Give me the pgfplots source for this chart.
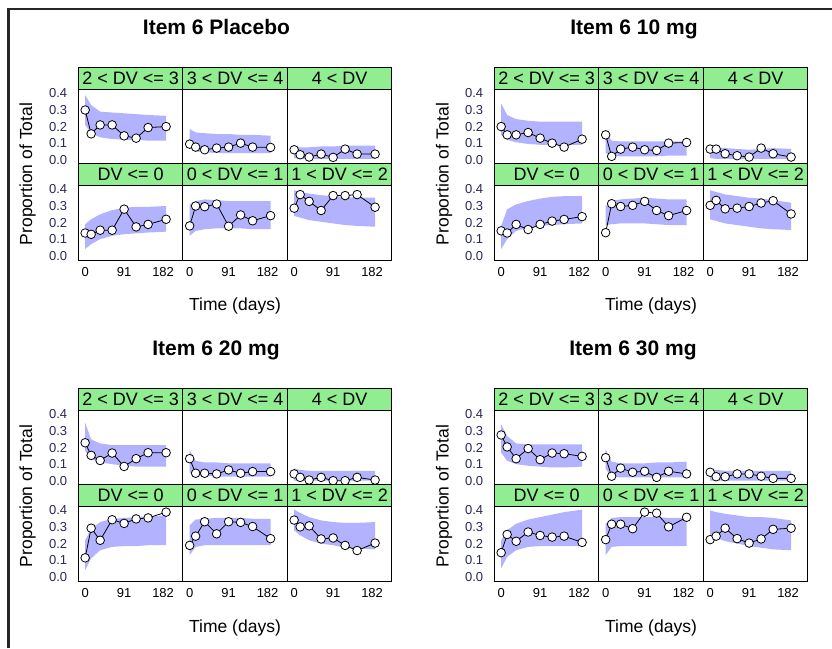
\documentclass[border=0pt]{standalone}
\usepackage{fontspec}
\setmainfont{Liberation Sans}
\usepackage{pgfplots}
\pgfplotsset{compat=1.18}
\definecolor{bandc}{RGB}{178,178,255}
\definecolor{stripc}{RGB}{144,238,144}
\definecolor{tickc}{RGB}{40,40,85}

\pgfplotsset{
 panel/.style={
  scale only axis, width=104.5pt, height=74.5pt,
  xmin=-16, xmax=228, ymin=-0.026, ymax=0.424,
  xtick={0,91,182}, ytick={0,0.1,0.2,0.3,0.4},
  xticklabels={,,}, yticklabels={,,,,},
  major tick length=0pt,
  axis line style={line width=0.8pt},
  every axis title/.style={at={(0.5,1)}, anchor=south, fill=stripc, draw=black, line width=0.8pt,
    minimum width=104.5pt, minimum height=21.5pt, inner sep=0pt, font=\fontsize{18}{20}\selectfont},
 },
 xlab/.style={xticklabels={0,91,182}, xticklabel style={font=\fontsize{13}{15}\selectfont, inner sep=0pt, yshift=-7pt}},
 ylab/.style={yticklabels={0.0,0.1,0.2,0.3,0.4}, yticklabel style={font=\fontsize{13}{15}\selectfont, text=tickc, inner sep=0pt, xshift=-11pt}},
}

\newcommand{\panel}[5]{%
 \begin{axis}[panel, at={(#1)}, anchor=south west, title={#2}, #3]
 \addplot[fill=bandc, draw=none] coordinates {#4};
 \addplot[black, line width=0.8pt, mark=*, mark size=4.3pt, mark options={fill=white, draw=black, line width=0.8pt}] coordinates {#5};
 \end{axis}}

\begin{document}
\begin{tikzpicture}
\path[use as bounding box] (0pt,0pt) rectangle (832pt,648pt);
\draw[line width=2.5pt, black!85] (8.7pt,0pt) -- (8.7pt,639pt) -- (832pt,639pt);

% ---------------- Group 1: Placebo ----------------
\panel{78.3pt,484pt}{2 < DV <= 3}{ylab}
{(0,0.39)(14,0.33)(35,0.29)(63,0.285)(91,0.28)(119,0.275)(147,0.27)(189,0.265)(189,0.115)(147,0.115)(119,0.12)(91,0.12)(63,0.125)(35,0.135)(14,0.16)(0,0.21)}
{(0,0.30)(14,0.156)(35,0.21)(63,0.21)(91,0.144)(119,0.13)(147,0.194)(189,0.20)}
\panel{182.8pt,484pt}{3 < DV <= 4}{}
{(0,0.185)(14,0.165)(35,0.16)(63,0.155)(91,0.155)(119,0.15)(147,0.15)(189,0.145)(189,0.04)(147,0.04)(119,0.04)(91,0.04)(63,0.04)(35,0.045)(14,0.05)(0,0.07)}
{(0,0.094)(14,0.076)(35,0.06)(63,0.07)(91,0.076)(119,0.10)(147,0.076)(189,0.074)}
\panel{287.3pt,484pt}{4 < DV}{}
{(0,0.08)(14,0.075)(35,0.075)(63,0.08)(91,0.08)(119,0.085)(147,0.085)(189,0.085)(189,0.005)(14,0.005)(0,0.01)}
{(0,0.06)(14,0.03)(35,0.016)(63,0.034)(91,0.014)(119,0.064)(147,0.034)(189,0.034)}
\panel{78.3pt,388pt}{DV <= 0}{xlab,ylab}
{(0,0.19)(14,0.22)(35,0.25)(63,0.275)(91,0.29)(119,0.295)(147,0.295)(189,0.30)(189,0.145)(147,0.14)(119,0.135)(91,0.13)(63,0.12)(35,0.10)(14,0.07)(0,0.04)}
{(0,0.137)(14,0.129)(35,0.154)(63,0.154)(91,0.281)(119,0.174)(147,0.189)(189,0.22)}
\panel{182.8pt,388pt}{0 < DV <= 1}{xlab}
{(0,0.31)(14,0.33)(35,0.34)(63,0.335)(91,0.33)(119,0.33)(147,0.33)(189,0.33)(189,0.16)(147,0.16)(119,0.165)(91,0.165)(63,0.165)(35,0.16)(14,0.15)(0,0.12)}
{(0,0.18)(14,0.30)(35,0.296)(63,0.312)(91,0.178)(119,0.246)(147,0.211)(189,0.242)}
\panel{287.3pt,388pt}{1 < DV <= 2}{xlab}
{(0,0.395)(14,0.385)(35,0.375)(63,0.365)(91,0.36)(119,0.355)(147,0.35)(189,0.35)(189,0.175)(147,0.18)(119,0.185)(91,0.195)(63,0.205)(35,0.215)(14,0.23)(0,0.24)}
{(0,0.287)(14,0.369)(35,0.328)(63,0.273)(91,0.363)(119,0.363)(147,0.369)(189,0.293)}

% ---------------- Group 2: 10 mg ----------------
\panel{494.3pt,484pt}{2 < DV <= 3}{ylab}
{(0,0.34)(14,0.27)(35,0.245)(63,0.235)(91,0.23)(189,0.23)(189,0.09)(91,0.09)(63,0.095)(35,0.105)(14,0.12)(0,0.15)}
{(0,0.20)(14,0.15)(35,0.15)(63,0.164)(91,0.13)(119,0.10)(147,0.076)(189,0.124)}
\panel{598.8pt,484pt}{3 < DV <= 4}{}
{(0,0.17)(14,0.115)(35,0.11)(189,0.11)(189,0.025)(147,0.025)(119,0.02)(35,0.02)(14,0.025)(0,0.04)}
{(0,0.15)(14,0.02)(35,0.064)(63,0.076)(91,0.06)(119,0.056)(147,0.10)(189,0.104)}
\panel{703.3pt,484pt}{4 < DV}{}
{(0,0.08)(14,0.075)(35,0.07)(63,0.065)(91,0.06)(119,0.065)(147,0.07)(189,0.065)(189,0.005)(14,0.005)(0,0.01)}
{(0,0.064)(14,0.064)(35,0.036)(63,0.024)(91,0.016)(119,0.07)(147,0.036)(189,0.016)}
\panel{494.3pt,388pt}{DV <= 0}{xlab,ylab}
{(0,0.18)(14,0.28)(35,0.31)(63,0.33)(91,0.345)(119,0.355)(147,0.36)(189,0.36)(189,0.195)(147,0.19)(119,0.185)(91,0.18)(63,0.17)(35,0.15)(14,0.10)(0,0.04)}
{(0,0.15)(14,0.137)(35,0.189)(63,0.158)(91,0.189)(119,0.209)(147,0.219)(189,0.236)}
\panel{598.8pt,388pt}{0 < DV <= 1}{xlab}
{(0,0.30)(14,0.33)(35,0.34)(63,0.345)(91,0.35)(119,0.345)(147,0.34)(189,0.34)(189,0.185)(147,0.185)(119,0.19)(91,0.195)(63,0.195)(35,0.195)(14,0.19)(0,0.185)}
{(0,0.139)(14,0.314)(35,0.297)(63,0.304)(91,0.328)(119,0.273)(147,0.242)(189,0.273)}
\panel{703.3pt,388pt}{1 < DV <= 2}{xlab}
{(0,0.395)(14,0.385)(35,0.37)(63,0.36)(91,0.35)(119,0.345)(147,0.335)(189,0.32)(189,0.155)(147,0.16)(119,0.165)(91,0.175)(63,0.185)(35,0.195)(14,0.21)(0,0.22)}
{(0,0.304)(14,0.334)(35,0.283)(63,0.287)(91,0.297)(119,0.318)(147,0.332)(189,0.252)}

% ---------------- Group 3: 20 mg ----------------
\panel{78.3pt,163pt}{2 < DV <= 3}{ylab}
{(0,0.35)(14,0.25)(35,0.225)(63,0.215)(189,0.215)(189,0.085)(119,0.085)(91,0.09)(63,0.10)(35,0.11)(14,0.13)(0,0.18)}
{(0,0.229)(14,0.153)(35,0.122)(63,0.167)(91,0.086)(119,0.133)(147,0.169)(189,0.169)}
\panel{182.8pt,163pt}{3 < DV <= 4}{}
{(0,0.185)(14,0.12)(35,0.11)(63,0.11)(91,0.105)(189,0.105)(189,0.025)(63,0.025)(35,0.03)(14,0.03)(0,0.05)}
{(0,0.133)(14,0.045)(35,0.045)(63,0.041)(91,0.065)(119,0.045)(147,0.055)(189,0.055)}
\panel{287.3pt,163pt}{4 < DV}{}
{(0,0.075)(14,0.065)(35,0.06)(189,0.06)(189,0.0)(0,0.0)}
{(0,0.041)(14,0.02)(35,0.004)(63,0.02)(91,0.0)(119,0.0)(147,0.02)(189,0.004)}
\panel{78.3pt,67pt}{DV <= 0}{xlab,ylab}
{(0,0.22)(14,0.29)(35,0.33)(63,0.35)(91,0.355)(119,0.36)(147,0.365)(189,0.37)(189,0.19)(147,0.19)(119,0.185)(91,0.185)(63,0.18)(35,0.16)(14,0.11)(0,0.04)}
{(0,0.114)(14,0.293)(35,0.22)(63,0.344)(91,0.322)(119,0.349)(147,0.355)(189,0.39)}
\panel{182.8pt,67pt}{0 < DV <= 1}{xlab}
{(0,0.31)(14,0.345)(35,0.35)(63,0.355)(119,0.355)(147,0.35)(189,0.35)(189,0.19)(35,0.19)(14,0.18)(0,0.13)}
{(0,0.189)(14,0.245)(35,0.332)(63,0.259)(91,0.332)(119,0.328)(147,0.303)(189,0.23)}
\panel{287.3pt,67pt}{1 < DV <= 2}{xlab}
{(0,0.405)(14,0.385)(35,0.36)(63,0.34)(91,0.33)(119,0.325)(147,0.325)(189,0.33)(189,0.165)(147,0.17)(119,0.175)(91,0.19)(63,0.20)(35,0.22)(14,0.25)(0,0.28)}
{(0,0.342)(14,0.301)(35,0.307)(63,0.228)(91,0.234)(119,0.189)(147,0.158)(189,0.203)}

% ---------------- Group 4: 30 mg ----------------
\panel{494.3pt,163pt}{2 < DV <= 3}{ylab}
{(0,0.34)(14,0.27)(35,0.225)(63,0.22)(189,0.22)(189,0.085)(147,0.08)(119,0.08)(91,0.085)(63,0.09)(35,0.10)(14,0.12)(0,0.17)}
{(0,0.276)(14,0.204)(35,0.133)(63,0.194)(91,0.127)(119,0.167)(147,0.163)(189,0.147)}
\panel{598.8pt,163pt}{3 < DV <= 4}{}
{(0,0.19)(14,0.115)(35,0.105)(91,0.105)(119,0.11)(147,0.11)(189,0.115)(189,0.02)(35,0.02)(14,0.025)(0,0.07)}
{(0,0.139)(14,0.027)(35,0.076)(63,0.051)(91,0.057)(119,0.02)(147,0.057)(189,0.041)}
\panel{703.3pt,163pt}{4 < DV}{}
{(0,0.07)(14,0.065)(35,0.06)(189,0.06)(189,0.0)(0,0.0)}
{(0,0.051)(14,0.024)(35,0.024)(63,0.041)(91,0.041)(119,0.027)(147,0.014)(189,0.014)}
\panel{494.3pt,67pt}{DV <= 0}{xlab,ylab}
{(0,0.22)(14,0.28)(35,0.32)(63,0.345)(91,0.36)(119,0.375)(147,0.39)(189,0.405)(189,0.185)(91,0.185)(63,0.18)(35,0.16)(14,0.12)(0,0.05)}
{(0,0.145)(14,0.255)(35,0.214)(63,0.27)(91,0.249)(119,0.239)(147,0.245)(189,0.207)}
\panel{598.8pt,67pt}{0 < DV <= 1}{xlab}
{(0,0.32)(14,0.355)(35,0.36)(119,0.36)(147,0.355)(189,0.355)(189,0.185)(35,0.185)(14,0.18)(0,0.13)}
{(0,0.224)(14,0.317)(35,0.317)(63,0.29)(91,0.39)(119,0.384)(147,0.301)(189,0.359)}
\panel{703.3pt,67pt}{1 < DV <= 2}{xlab}
{(0,0.40)(14,0.39)(35,0.38)(63,0.37)(91,0.36)(119,0.36)(147,0.355)(189,0.34)(189,0.16)(147,0.165)(119,0.175)(91,0.185)(63,0.20)(35,0.215)(14,0.235)(0,0.255)}
{(0,0.224)(14,0.245)(35,0.293)(63,0.23)(91,0.203)(119,0.228)(147,0.286)(189,0.293)}

% ---------------- Titles and labels ----------------
\node[anchor=base, font=\bfseries\fontsize{21}{24}\selectfont] at (216.5pt,613pt) {Item 6 Placebo};
\node[anchor=base, font=\bfseries\fontsize{21}{24}\selectfont] at (634pt,613pt) {Item 6 10 mg};
\node[anchor=base, font=\bfseries\fontsize{21}{24}\selectfont] at (216pt,292pt) {Item 6 20 mg};
\node[anchor=base, font=\bfseries\fontsize{21}{24}\selectfont] at (633pt,292pt) {Item 6 30 mg};

\node[rotate=90, font=\fontsize{17.5}{20}\selectfont] at (27.5pt,474pt) {Proportion of Total};
\node[rotate=90, font=\fontsize{17.5}{20}\selectfont] at (444pt,474pt) {Proportion of Total};
\node[rotate=90, font=\fontsize{17.5}{20}\selectfont] at (27.5pt,152pt) {Proportion of Total};
\node[rotate=90, font=\fontsize{17.5}{20}\selectfont] at (444pt,152pt) {Proportion of Total};

\node[anchor=base, font=\fontsize{17.5}{20}\selectfont] at (235pt,337pt) {Time (days)};
\node[anchor=base, font=\fontsize{17.5}{20}\selectfont] at (651pt,337pt) {Time (days)};
\node[anchor=base, font=\fontsize{17.5}{20}\selectfont] at (235pt,16pt) {Time (days)};
\node[anchor=base, font=\fontsize{17.5}{20}\selectfont] at (651pt,16pt) {Time (days)};
\end{tikzpicture}
\end{document}
